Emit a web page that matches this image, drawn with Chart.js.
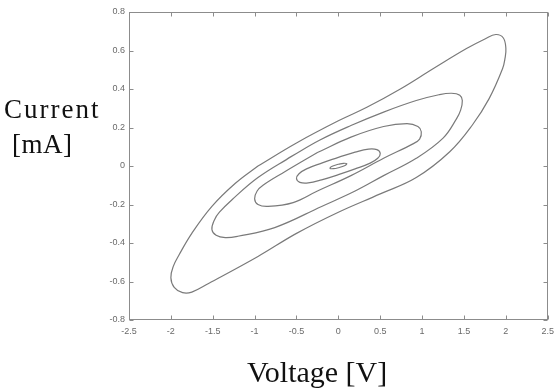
<!DOCTYPE html>
<html>
<head>
<meta charset="utf-8">
<script src="https://cdn.jsdelivr.net/npm/chart.js@4.4.1/dist/chart.umd.min.js"></script>
<style>
    html, body { margin: 0; padding: 0; background: #fff; }
    #wrap { position: relative; width: 560px; height: 391px; overflow: hidden; }
    #c { position: absolute; left: 0; top: 0; }
    .lbl { position: absolute; font-family: "Liberation Serif", "Times New Roman", serif; color: #111; white-space: nowrap; line-height: 1; }
</style>
</head>
<body>
<div id="wrap">
    <canvas id="c" width="560" height="391"></canvas>
    <div class="lbl" style="left:4px;top:96px;font-size:27px;letter-spacing:2px">Current</div>
    <div class="lbl" style="left:12px;top:131px;font-size:27px;letter-spacing:0.5px">[mA]</div>
    <div class="lbl" style="left:247px;top:357px;font-size:30px">Voltage [V]</div>
</div>
<script>
// axis ticks
const xTicks = [-2.5, -2, -1.5, -1, -0.5, 0, 0.5, 1, 1.5, 2, 2.5];
const xTickLabels = ['-2.5', '-2', '-1.5', '-1', '-0.5', '0', '0.5', '1', '1.5', '2', '2.5'];
const yTicks = [-0.8, -0.6, -0.4, -0.2, 0, 0.2, 0.4, 0.6, 0.8];
const yTickLabels = ['-0.8', '-0.6', '-0.4', '-0.2', '0', '0.2', '0.4', '0.6', '0.8'];

// loops, one per sweep amplitude (V, mA)
const loop20V = [-0.96, -0.50, 0.00, 0.34, 0.74, 1.13, 1.53, 1.75, 1.88, 1.97, 2.00, 1.99, 1.96, 1.80, 1.60, 1.33, 0.93, 0.50, 0.00, -0.50, -0.96, -1.55, -1.75, -1.86, -1.96, -2.00, -1.97, -1.90, -1.75, -1.51, -1.23, -0.96];
const loop20I = [0.00, 0.12, 0.235, 0.305, 0.40, 0.505, 0.61, 0.66, 0.683, 0.665, 0.61, 0.56, 0.505, 0.35, 0.213, 0.074, -0.06, -0.145, -0.24, -0.35, -0.47, -0.61, -0.655, -0.658, -0.63, -0.58, -0.52, -0.46, -0.35, -0.21, -0.09, 0.00];

const loop15V = [-0.56, -0.22, 0.15, 0.54, 0.93, 1.20, 1.35, 1.45, 1.48, 1.46, 1.41, 1.25, 0.93, 0.54, 0.20, -0.20, -0.76, -1.20, -1.35, -1.46, -1.51, -1.48, -1.42, -1.27, -0.96, -0.56];
const loop15I = [0.05, 0.135, 0.21, 0.28, 0.34, 0.37, 0.378, 0.368, 0.34, 0.29, 0.245, 0.145, 0.04, -0.05, -0.13, -0.21, -0.32, -0.365, -0.372, -0.36, -0.33, -0.28, -0.24, -0.175, -0.06, 0.05];

const loop10V = [-0.25, 0.15, 0.54, 0.82, 0.95, 0.99, 0.97, 0.89, 0.54, 0.15, -0.25, -0.54, -0.84, -0.96, -1.00, -0.97, -0.90, -0.64, -0.25];
const loop10I = [0.07, 0.15, 0.205, 0.22, 0.205, 0.178, 0.14, 0.115, 0.04, -0.05, -0.13, -0.19, -0.21, -0.20, -0.17, -0.13, -0.10, -0.03, 0.07];

const loop05V = [0, 0.20, 0.36, 0.46, 0.50, 0.47, 0.38, 0.20, 0, -0.20, -0.36, -0.46, -0.50, -0.47, -0.38, -0.20, 0];
const loop05I = [0.045, 0.072, 0.088, 0.085, 0.065, 0.04, 0.015, -0.015, -0.045, -0.072, -0.088, -0.085, -0.065, -0.04, -0.015, 0.015, 0.045];

const loop01V = [0, 0.06, 0.10, 0.08, 0, -0.06, -0.10, -0.08, 0];
const loop01I = [0.009, 0.014, 0.012, 0.003, -0.009, -0.014, -0.012, -0.003, 0.009];

const loops = [
    [loop20V, loop20I],
    [loop15V, loop15I],
    [loop10V, loop10I],
    [loop05V, loop05I],
    [loop01V, loop01I]
];

const LINE = '#7a7a7a';
const AXIS = '#8c8c8c';

// box round the plot with inward ticks on all four sides, like the original
const frameTicks = {
    id: 'frameTicks',
    afterDatasetsDraw(chart) {
        const { ctx, chartArea: a, scales: { x, y } } = chart;
        const L = Math.round(a.left) + 0.5, R = Math.round(a.right) - 0.5;
        const T = Math.round(a.top) + 0.5, B = Math.round(a.bottom) - 0.5;
        const len = 4;
        ctx.save();
        ctx.strokeStyle = AXIS;
        ctx.lineWidth = 1;
        ctx.strokeRect(L, T, R - L, B - T);
        ctx.beginPath();
        xTicks.forEach(v => {
            const px = Math.round(x.getPixelForValue(v)) + 0.5;
            ctx.moveTo(px, B); ctx.lineTo(px, B - len);
            ctx.moveTo(px, T); ctx.lineTo(px, T + len);
        });
        yTicks.forEach(v => {
            const py = Math.round(y.getPixelForValue(v)) + 0.5;
            ctx.moveTo(L, py); ctx.lineTo(L + len, py);
            ctx.moveTo(R, py); ctx.lineTo(R - len, py);
        });
        ctx.stroke();
        ctx.restore();
    }
};

const tickFont = { family: '"Liberation Sans", Arial, sans-serif', size: 9 };

new Chart(document.getElementById('c'), {
    type: 'scatter',
    data: {
        datasets: loops.map(([v, i]) => ({
            data: v.map((vx, k) => ({ x: vx, y: i[k] })),
            showLine: true,
            borderColor: LINE,
            borderWidth: 1.2,
            pointRadius: 0,
            tension: 0.4,
            fill: false
        }))
    },
    options: {
        responsive: false,
        animation: false,
        layout: { padding: { left: 99, right: 8, top: 12, bottom: 51 } },
        plugins: { legend: { display: false }, tooltip: { enabled: false } },
        scales: {
            x: {
                type: 'linear',
                min: -2.5,
                max: 2.5,
                grid: { display: false, drawTicks: false },
                border: { display: false },
                afterBuildTicks: s => { s.ticks = xTicks.map(v => ({ value: v })); },
                afterFit: s => { s.height = 20; },
                ticks: {
                    color: '#6a6a6a',
                    font: tickFont,
                    padding: 6,
                    maxRotation: 0,
                    autoSkip: false,
                    callback: (v, i) => xTickLabels[i]
                }
            },
            y: {
                type: 'linear',
                min: -0.8,
                max: 0.8,
                grid: { display: false, drawTicks: false },
                border: { display: false },
                afterBuildTicks: s => { s.ticks = yTicks.map(v => ({ value: v })); },
                afterFit: s => { s.width = 30; },
                ticks: {
                    color: '#6a6a6a',
                    font: tickFont,
                    padding: 4,
                    autoSkip: false,
                    callback: (v, i) => yTickLabels[i]
                }
            }
        }
    },
    plugins: [frameTicks]
});
</script>
</body>
</html>
